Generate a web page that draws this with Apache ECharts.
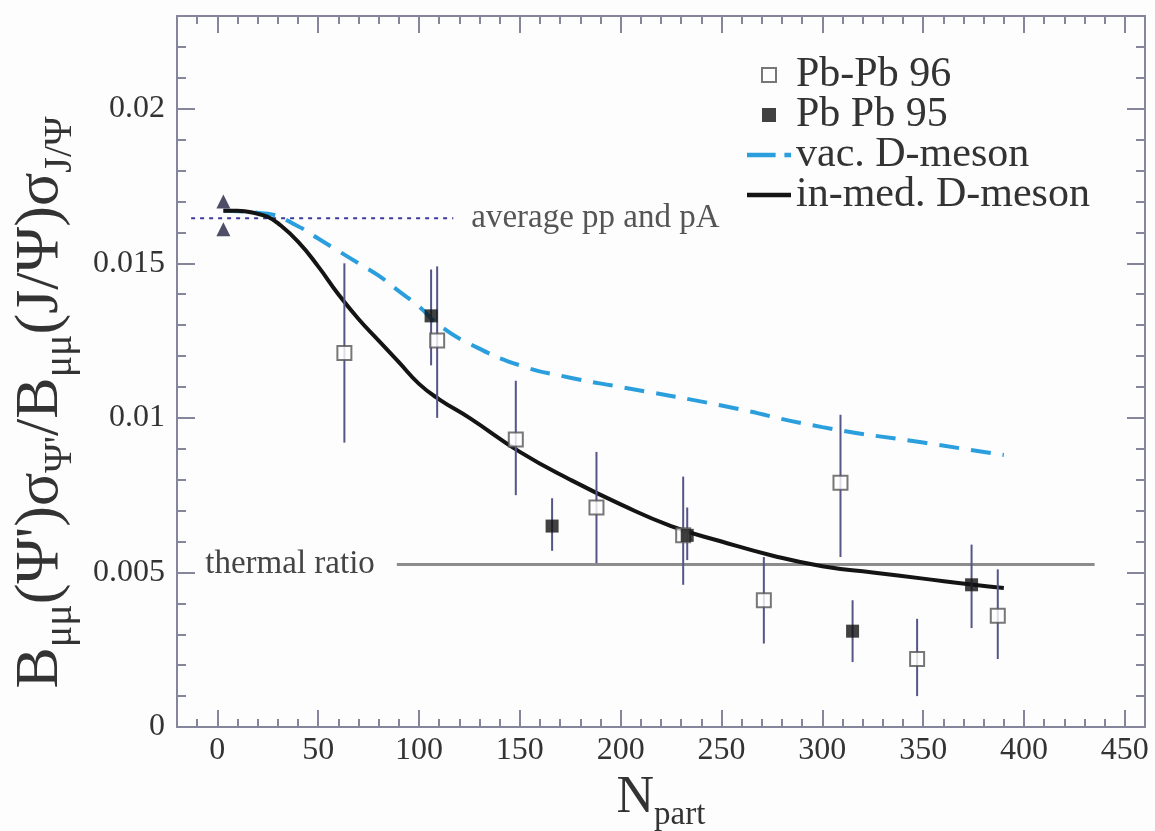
<!DOCTYPE html>
<html lang="en">
<head>
    <meta charset="utf-8">
    <title>psi' / J/psi ratio vs Npart</title>
    <style>
        html, body { margin: 0; padding: 0; background: #fdfdfd; }
    </style>
</head>
<body>
    <div id="main" style="width:1155px;height:831px;"></div>
    <script src="https://cdn.jsdelivr.net/npm/echarts/dist/echarts.min.js"></script>
    <script type="text/javascript">
        // axis ranges and tick labels
        var xMajorTicks = [0, 50, 100, 150, 200, 250, 300, 350, 400, 450];
        var yMajorTicks = [0, 0.005, 0.01, 0.015, 0.02];

        // Pb-Pb 96 (open squares) : N, value, low, high
        var pb96N   = [63, 109, 148, 188, 231, 271, 309, 347, 387];
        var pb96Val = [0.0121, 0.0125, 0.0093, 0.0071, 0.0062, 0.0041, 0.0079, 0.0022, 0.0036];
        var pb96Lo  = [0.0092, 0.0100, 0.0075, 0.0053, 0.0046, 0.0027, 0.0055, 0.0010, 0.0022];
        var pb96Hi  = [0.0150, 0.0149, 0.0112, 0.0089, 0.0081, 0.0055, 0.0101, 0.0035, 0.0051];

        // Pb Pb 95 (filled squares)
        var pb95N   = [106, 166, 233, 315, 374];
        var pb95Val = [0.0133, 0.0065, 0.0062, 0.0031, 0.0046];
        var pb95Lo  = [0.0117, 0.0057, 0.0054, 0.0021, 0.0032];
        var pb95Hi  = [0.0148, 0.0074, 0.0071, 0.0041, 0.0059];

        // pp and pA (triangles)
        var ppN   = [3, 3];
        var ppVal = [0.0170, 0.0161];

        // model curves
        var medN   = [3, 10, 20, 25, 30, 40, 50, 60, 70, 80, 90, 100, 110, 125, 150, 175, 200, 225, 250, 275, 300, 325, 350, 375, 390];
        var medVal = [0.0167, 0.0167, 0.0166, 0.0165, 0.0163, 0.0157, 0.0149, 0.0140, 0.0132, 0.0125, 0.0118, 0.0111, 0.0106, 0.0100, 0.0089, 0.0080, 0.0072, 0.0065, 0.0060, 0.00555, 0.0052, 0.0050, 0.0048, 0.0046, 0.0045];
        var vacN   = [3, 25, 40, 50, 60, 70, 80, 90, 100, 110, 125, 150, 175, 200, 250, 300, 350, 390];
        var vacVal = [0.0167, 0.0166, 0.0162, 0.0158, 0.0154, 0.0150, 0.0146, 0.0141, 0.0136, 0.0130, 0.0124, 0.0117, 0.0113, 0.0110, 0.0104, 0.0097, 0.0092, 0.0088];

        // reference lines
        var avgLineN = [-13, 117];
        var avgLineVal = 0.01646;
        var thermalN = [89, 435];
        var thermalVal = 0.00526;

        var frameColor = '#85859c';
        var serif = 'Liberation Serif';

        var myChart = echarts.init(document.getElementById('main'));

        function zip(a, b) {
            return a.map(function (v, i) { return [v, b[i]]; });
        }
        function zip4(a, b, c, d) {
            return a.map(function (v, i) { return [v, b[i], c[i], d[i]]; });
        }

        // error bars drawn with the axes' own coord()
        function errorBarItem(params, api) {
            var x = api.value(0);
            var p1 = api.coord([x, api.value(2)]);
            var p2 = api.coord([x, api.value(3)]);
            return {
                type: 'line',
                shape: { x1: p1[0], y1: p1[1], x2: p2[0], y2: p2[1] },
                style: { stroke: '#55558a', lineWidth: 2 }
            };
        }

        function mainX(pos, withLabels) {
            return {
                type: 'value', position: pos, min: -20, max: 460,
                axisLine: { show: true, onZero: false, lineStyle: { color: frameColor, width: 2 } },
                axisTick: { show: true, inside: true, length: 17, customValues: xMajorTicks, lineStyle: { color: frameColor, width: 2 } },
                axisLabel: { show: withLabels, customValues: xMajorTicks, margin: 8, color: '#333', fontFamily: serif, fontSize: 32 },
                splitLine: { show: false }
            };
        }
        function minorX(pos) {
            return {
                type: 'value', position: pos, min: -20, max: 460, interval: 10,
                axisLine: { show: false, onZero: false },
                axisTick: { show: true, inside: true, length: 8, lineStyle: { color: frameColor, width: 2 } },
                axisLabel: { show: false },
                splitLine: { show: false }
            };
        }
        function mainY(pos, withLabels) {
            return {
                type: 'value', position: pos, min: 0, max: 0.023,
                axisLine: { show: true, onZero: false, lineStyle: { color: frameColor, width: 2 } },
                axisTick: { show: true, inside: true, length: 18, customValues: yMajorTicks, lineStyle: { color: frameColor, width: 2 } },
                axisLabel: { show: withLabels, customValues: yMajorTicks, margin: 12, color: '#333', fontFamily: serif, fontSize: 32,
                    formatter: function (v) { return v === 0 ? '0' : String(+v.toFixed(3)); } },
                splitLine: { show: false }
            };
        }
        function minorY(pos) {
            return {
                type: 'value', position: pos, min: 0, max: 0.023, interval: 0.001,
                axisLine: { show: false, onZero: false },
                axisTick: { show: true, inside: true, length: 9, lineStyle: { color: frameColor, width: 2 } },
                axisLabel: { show: false },
                splitLine: { show: false }
            };
        }

        var xBottom = mainX('bottom', true);
        xBottom.name = '{n|N}{s|part}';
        xBottom.nameLocation = 'middle';
        xBottom.nameGap = 28;
        xBottom.nameTextStyle = {
            rich: {
                n: { fontFamily: serif, fontSize: 52, color: '#333', lineHeight: 68, verticalAlign: 'middle' },
                s: { fontFamily: serif, fontSize: 33, color: '#333', lineHeight: 68, verticalAlign: 'bottom' }
            }
        };

        var yLeft = mainY('left', true);
        yLeft.name = '{m|B}{s|μμ}{m|(Ψ\')σ}{s|Ψ\'}{m|/B}{s|μμ}{m|(J/Ψ)σ}{s|J/Ψ}';
        yLeft.nameLocation = 'middle';
        yLeft.nameRotate = 90;
        yLeft.nameGap = 97;
        yLeft.nameTextStyle = {
            padding: [0, 62, 0, 0],
            rich: {
                m: { fontFamily: serif, fontSize: 62, color: '#333', lineHeight: 78, verticalAlign: 'middle' },
                s: { fontFamily: serif, fontSize: 40, color: '#333', lineHeight: 78, verticalAlign: 'bottom' }
            }
        };

        var option = {
            backgroundColor: '#fdfdfd',
            animation: false,
            grid: { left: 177, right: 10, top: 16, bottom: 104, containLabel: false, outerBoundsMode: 'none' },
            legend: {
                orient: 'vertical',
                left: 742, top: 49,
                itemWidth: 44, itemHeight: 14, itemGap: -2,
                symbolKeepAspect: true,
                textStyle: { fontFamily: serif, fontSize: 42, lineHeight: 40, color: '#333' },
                data: [
                    { name: 'Pb-Pb 96', icon: 'path://M0,0h12v12h-12z' },
                    { name: 'Pb Pb 95', icon: 'path://M0,0h12v12h-12z' },
                    { name: 'vac. D-meson', icon: 'path://M0,0h26v4h-26z M34,0h6v4h-6z' },
                    { name: 'in-med. D-meson', icon: 'path://M0,0h40v4h-40z' }
                ]
            },
            xAxis: [xBottom, minorX('bottom'), mainX('top', false), minorX('top')],
            yAxis: [yLeft, minorY('left'), mainY('right', false), minorY('right')],
            series: [
                {
                    name: 'average', type: 'line', data: zip(avgLineN, [avgLineVal, avgLineVal]),
                    symbol: 'none', silent: true,
                    lineStyle: { color: '#3b3b9e', width: 2, type: [4, 5] },
                    endLabel: { show: true, formatter: 'average pp and pA', distance: 18,
                        fontFamily: serif, fontSize: 33, color: '#555' },
                    z: 1
                },
                {
                    name: 'thermal', type: 'line', data: zip(thermalN, [thermalVal, thermalVal]),
                    symbol: 'none', silent: true,
                    lineStyle: { color: '#8c8c8c', width: 3 },
                    markPoint: {
                        symbol: 'circle', symbolSize: 0,
                        data: [{ coord: [thermalN[0], thermalVal] }],
                        label: { show: true, position: 'left', distance: 22, formatter: 'thermal ratio',
                            fontFamily: serif, fontSize: 33, color: '#444' }
                    },
                    z: 1
                },
                {
                    name: 'vac. D-meson', type: 'line', data: zip(vacN, vacVal),
                    smooth: true, symbol: 'none', color: '#2b9fdd',
                    lineStyle: { color: '#2b9fdd', width: 4, type: [20, 12] },
                    z: 2
                },
                {
                    name: 'in-med. D-meson', type: 'line', data: zip(medN, medVal),
                    smooth: true, symbol: 'none', color: '#141414',
                    lineStyle: { color: '#141414', width: 4 },
                    z: 3
                },
                {
                    name: 'err96', type: 'custom', renderItem: errorBarItem,
                    data: zip4(pb96N, pb96Val, pb96Lo, pb96Hi), silent: true, z: 4
                },
                {
                    name: 'err95', type: 'custom', renderItem: errorBarItem,
                    data: zip4(pb95N, pb95Val, pb95Lo, pb95Hi), silent: true, z: 4
                },
                {
                    name: 'Pb-Pb 96', type: 'scatter', data: zip(pb96N, pb96Val),
                    symbol: 'rect', symbolSize: 14,
                    itemStyle: { color: '#ffffff', borderColor: '#555555', borderWidth: 2 },
                    z: 5
                },
                {
                    name: 'Pb Pb 95', type: 'scatter', data: zip(pb95N, pb95Val),
                    symbol: 'rect', symbolSize: 13,
                    itemStyle: { color: '#111111' },
                    z: 6
                },
                {
                    name: 'pp pA', type: 'scatter', data: zip(ppN, ppVal),
                    symbol: 'triangle', symbolSize: 14,
                    itemStyle: { color: '#222244' },
                    z: 6
                }
            ]
        };
        myChart.setOption(option);
    </script>
</body>
</html>
